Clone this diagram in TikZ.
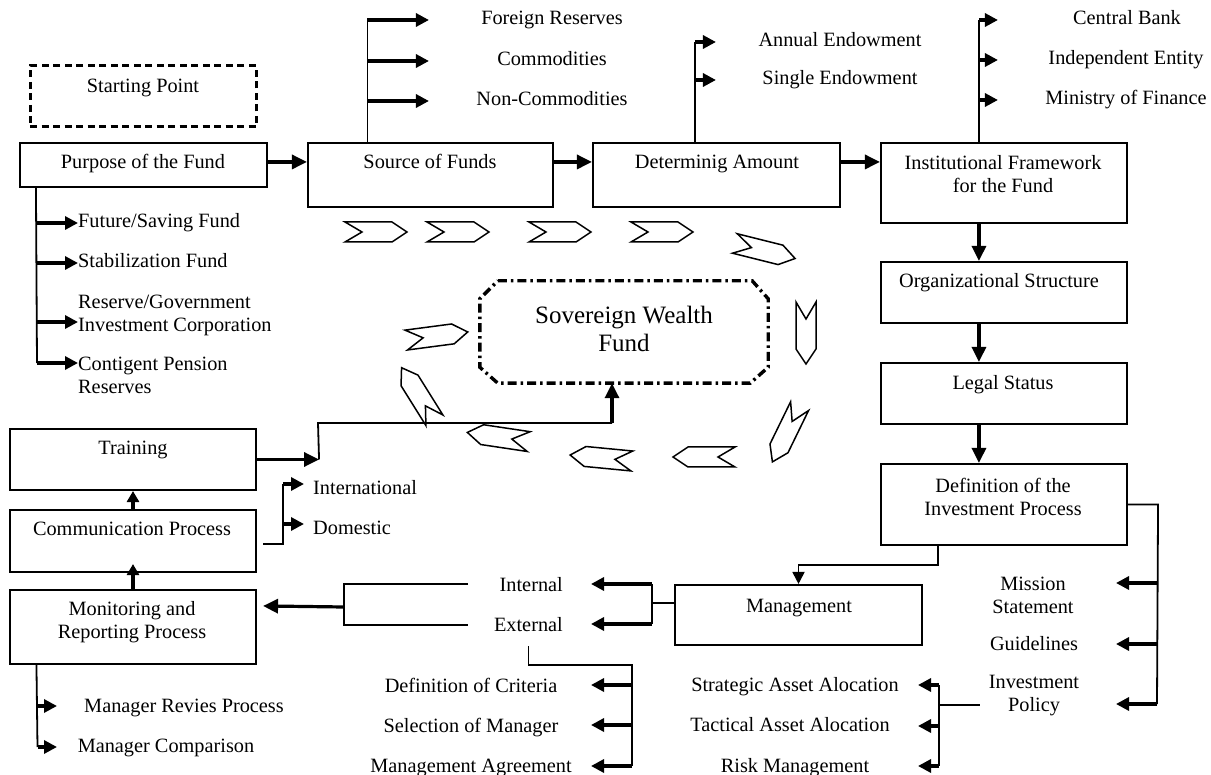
\documentclass[tikz,border=0pt]{standalone}
\usepackage{fontspec}
\setmainfont{Liberation Serif}
\usetikzlibrary{arrows.meta,calc}
\newcommand\chevshape[3]{\draw[chevron, shift={(#1,#2)}, rotate=#3] (-31,-10) -- (16,-10) -- (31,0) -- (16,10) -- (-31,10) -- (-14,0) -- cycle;}
\begin{document}
\begin{tikzpicture}[x=1pt,y=-1pt,font=\fontsize{20.3}{23}\selectfont]
\tikzset{
  box/.style={draw, line width=2.1pt, inner sep=0pt},
  txt/.style={inner sep=0pt, text height=14pt, text depth=4pt},
  txttwo/.style={inner sep=0pt, align=center},
  thinline/.style={line width=1.8pt},
  bigarrow/.style={line width=3.2pt, -{Triangle[length=15pt,width=14pt]}},
  smallarrow/.style={line width=3.2pt, -{Triangle[length=11pt,width=12pt]}},
  stubarrow/.style={line width=3.2pt, -{Triangle[length=13pt,width=13pt]}},
  thinarrow/.style={line width=1.8pt, -{Triangle[length=12pt,width=12pt]}},
  chevron/.style={line width=1.5pt, line join=miter},
  swfline/.style={line width=3.4pt, dash pattern=on 9pt off 4pt on 2.5pt off 4pt},
  startline/.style={draw, line width=3pt, dash pattern=on 7pt off 4.5pt, inner sep=0pt}
}
\useasboundingbox (0,0) rectangle (1211,775);

% ---------- boxes ----------
\node[startline, minimum width=226, minimum height=61] (start) at (143,96.5) {};
\node[box, minimum width=247, minimum height=44] (purpose) at (143.5,165) {};
\node[box, minimum width=245, minimum height=64] (source) at (430.5,175) {};
\node[box, minimum width=247, minimum height=64] (amount) at (716.5,175) {};
\node[box, minimum width=246, minimum height=80] (inst) at (1004,183) {};
\node[box, minimum width=246, minimum height=61] (org) at (1004,292.5) {};
\node[box, minimum width=246, minimum height=61] (legal) at (1004,393.5) {};
\node[box, minimum width=246, minimum height=81] (definv) at (1004,504.5) {};
\node[box, minimum width=247, minimum height=60] (mgmt) at (798.5,615) {};
\node[box, minimum width=246, minimum height=61] (training) at (133,459.5) {};
\node[box, minimum width=246, minimum height=62] (comm) at (133,541) {};
\node[box, minimum width=246, minimum height=74] (monitor) at (133,627) {};
\node[inner sep=0pt, minimum width=288, minimum height=102] (swf) at (624,332) {};
\node[inner sep=0pt, align=center, font=\fontsize{25}{28}\selectfont] (tswf) at (624,329) {Sovereign Wealth\\Fund};
\draw[swfline] ($(swf.north west)+(18,0)$) -- ($(swf.north east)+(-16,0)$) -- ($(swf.north east)+(0,18)$)
  -- ($(swf.south east)+(0,-16)$) -- ($(swf.south east)+(-18,0)$) -- ($(swf.south west)+(18,0)$)
  -- ($(swf.south west)+(0,-16)$) -- ($(swf.north west)+(0,18)$) -- cycle;

% ---------- box texts ----------
\node[txt] (tstart) at (143,88) {Starting Point};
\node[txt] (tpurpose) at (143,164) {Purpose of the Fund};
\node[txt] (tsource) at (430,164) {Source of Funds};
\node[txt] (tamount) at (717,164) {Determinig Amount};
\node[txttwo] (tinst) at (1003,174) {Institutional Framework\\for the Fund};
\node[txt] (torg) at (999,283) {Organizational Structure};
\node[txt] (tlegal) at (1003,385) {Legal Status};
\node[txttwo] (tdefinv) at (1003,497) {Definition of the\\Investment Process};
\node[txt] (tmgmt) at (799,607) {Management};
\node[txt] (ttrain) at (133,450) {Training};
\node[txt] (tcomm) at (132,531) {Communication Process};
\node[txttwo] (tmon) at (132,622) {Monitoring and\\Reporting Process};

% ---------- branch texts ----------
\node[txt] (fr) at (552,20) {Foreign Reserves};
\node[txt] (co) at (552,61) {Commodities};
\node[txt] (nc) at (552,101) {Non-Commodities};
\node[txt] (ae) at (840,42) {Annual Endowment};
\node[txt] (se) at (840,80) {Single Endowment};
\node[txt] (cb) at (1127,20) {Central Bank};
\node[txt] (ie) at (1126,60) {Independent Entity};
\node[txt] (mf) at (1126,100) {Ministry of Finance};
\node[txt, anchor=west] (fs) at (78,223) {Future/Saving Fund};
\node[txt, anchor=west] (sf) at (78,263) {Stabilization Fund};
\node[txttwo, anchor=west, align=left] (rg) at (78,315.5) {Reserve/Government\\Investment Corporation};
\node[txttwo, anchor=west, align=left] (cp) at (78,375) {Contigent Pension\\Reserves};
\node[txt, anchor=west] (intl) at (313,490) {International};
\node[txt, anchor=west] (dom) at (313,530) {Domestic};
\node[txt, anchor=east] (int) at (563,586) {Internal};
\node[txt, anchor=east] (ext) at (563,626) {External};
\node[txt] (dc) at (471,687) {Definition of Criteria};
\node[txt] (sm) at (471,727) {Selection of Manager};
\node[txt] (ma) at (471,767) {Management Agreement};
\node[txt] (saa) at (795,686) {Strategic Asset Alocation};
\node[txt] (taa) at (790,726) {Tactical Asset Alocation};
\node[txt] (rm) at (795,767) {Risk Management};
\node[txttwo] (ms) at (1033,595.5) {Mission\\Statement};
\node[txt] (gl) at (1034,645) {Guidelines};
\node[txttwo] (ip) at (1034,696) {Investment\\Policy};
\node[txt] (mrp) at (184,707) {Manager Revies Process};
\node[txt] (mc) at (166,747) {Manager Comparison};

% ---------- main flow ----------
\draw[bigarrow] ($(purpose.north east)+(0,20)$) -- ($(purpose.north east -| source.west)+(0,20)$);
\draw[bigarrow] ($(source.north east)+(0,20)$) -- ($(source.north east -| amount.west)+(0,20)$);
\draw[bigarrow] ($(amount.north east)+(0,20)$) -- ($(amount.north east -| inst.west)+(0,20)$);
\draw[bigarrow] ($(inst.south west)+(99,0)$) -- ($(org.north west)+(99,0)$);
\draw[bigarrow] ($(org.south west)+(99,0)$) -- ($(legal.north west)+(99,0)$);
\draw[bigarrow] ($(legal.south west)+(99,0)$) -- ($(definv.north west)+(99,0)$);
\draw[thinarrow] ($(definv.south west)+(58,0)$) -- ++(0,19) -| (mgmt.north);

% ---------- purpose branches ----------
\coordinate (pb0) at ($(purpose.south west)+(17,0)$);
\coordinate (pbr) at (37,322);
\coordinate (pbend) at (37,363);
\draw[thinline] (pb0) -- (pbend);
\draw[stubarrow] (pb0 |- fs.west) -- (fs.west);
\draw[stubarrow] (pb0 |- sf.west) -- (sf.west);
\draw[stubarrow] (pbr) -- (pbr -| rg.west);
\draw[stubarrow] (pbend) -- (pbend -| cp.west);

% ---------- source branches ----------
\coordinate (sb0) at ($(source.north west)+(60.5,0)$);
\draw[thinline] (sb0) -- (sb0 |- fr);
\foreach \t in {fr,co,nc} \draw[stubarrow] (sb0 |- \t) -- ++(61.5,0);

% ---------- amount branches ----------
\coordinate (ab0) at ($(amount.north west)+(103,0)$);
\draw[thinline] (ab0) -- (ab0 |- ae);
\foreach \t in {ae,se} \draw[stubarrow] (ab0 |- \t) -- ++(21,0);

% ---------- institution branches ----------
\coordinate (ib0) at ($(inst.north west)+(99,0)$);
\draw[thinline] (ib0) -- (ib0 |- cb);
\foreach \t in {cb,ie,mf} \draw[stubarrow] (ib0 |- \t) -- ++(19,0);

% ---------- investment process branches ----------
\coordinate (rb) at ($(definv.east)+(30,0)$);
\coordinate (rb1) at (1157,583);
\coordinate (rb2) at (1157,644);
\coordinate (rb3) at (1157,704);
\draw[thinline] (definv.east) -- (rb) -- (rb3);
\foreach \c in {rb1,rb2,rb3} \draw[stubarrow] (\c) -- ++(-41,0);

\coordinate (ipb) at (939,705);
\coordinate (ipb1) at (939,685);
\coordinate (ipb2) at (939,726);
\coordinate (ipb3) at (939,766);
\draw[thinline] ($(ip.west)+(-9,9)$) -- (ipb);
\draw[thinline] (ipb1) -- (ipb3);
\foreach \c in {ipb1,ipb2,ipb3} \draw[stubarrow] (\c) -- ++(-21,0);

% ---------- management branches ----------
\coordinate (mb) at ($(mgmt.north west)+(-23,19)$);
\coordinate (mb1) at (652,584);
\coordinate (mb2) at (652,624);
\draw[thinline] ($(mgmt.north west)+(0,19)$) -- (mb);
\draw[thinline] (mb1) -- (mb2);
\foreach \c in {mb1,mb2} \draw[stubarrow] (\c) -- ++(-61,0);

% ---------- internal / external to monitoring ----------
\coordinate (ie1) at (468,584);
\coordinate (ie2) at (468,625);
\coordinate (iev) at (344,607);
\draw[thinline] (ie1) -- (344,584) -- (344,625) -- (ie2);
\draw[bigarrow] (iev) -- ($(monitor.north east)+(6,17)$);

\coordinate (eb) at (632,665);
\coordinate (eb1) at (632,685);
\coordinate (eb2) at (632,725);
\coordinate (eb3) at (632,766);
\draw[thinline] ($(ext.south)+(0,11)$) |- (eb) -- (eb3);
\foreach \c in {eb1,eb2,eb3} \draw[stubarrow] (\c) -- ++(-41,0);

% ---------- monitoring branches ----------
\coordinate (mo0) at ($(monitor.south west)+(27.5,0)$);
\coordinate (mo1) at (37.5,706);
\coordinate (mo2) at (37.5,747);
\draw[thinline] (mo0) -- (mo2);
\foreach \c in {mo1,mo2} \draw[stubarrow] (\c) -- ++(19.5,0);

% ---------- communication branches ----------
\coordinate (cm0) at ($(comm.east)+(6,3)$);
\coordinate (cm1) at (283,484);
\coordinate (cm2) at (283,524);
\draw[thinline] (cm0) -| (cm1);
\foreach \c in {cm1,cm2} \draw[stubarrow] (\c) -- ++(21,0);

% ---------- left column flow ----------
\draw[smallarrow] (comm.north) -- (training.south);
\draw[smallarrow] (monitor.north) -- ($(comm.south)+(0,-9)$);
\coordinate (tj) at ($(training.east)+(62,0)$);
\coordinate (tk) at (318,423);
\coordinate (tl) at (612,423);
\draw[bigarrow] (training.east) -- (tj);
\draw[thinline] (tj) -- (tk) -- (tl);
\draw[bigarrow] (tl) -- (tl |- swf.south);

% ---------- chevrons around the fund ----------
\chevshape{376}{232}{0}
\chevshape{458}{232}{0}
\chevshape{560}{232}{0}
\chevshape{662}{232}{0}
\chevshape{765}{251}{-14}
\chevshape{806}{333}{-90}
\chevshape{786}{434}{-116}
\chevshape{704}{457}{180}
\chevshape{601}{458}{174.5}
\chevshape{498}{437}{171.5}
\chevshape{418}{394}{122}
\chevshape{437}{336}{7.5}
\end{tikzpicture}
\end{document}
